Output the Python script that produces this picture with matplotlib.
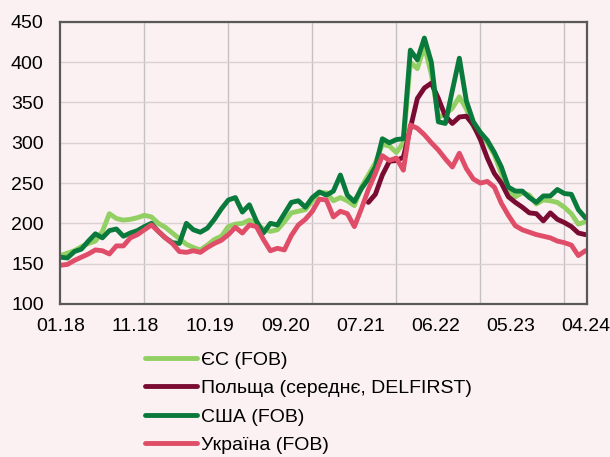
import numpy as np
import matplotlib
matplotlib.use("Agg")
import matplotlib.pyplot as plt

plt.rcParams["font.family"] = ["Liberation Sans", "DejaVu Sans"]

# monthly values, 01.2018 .. 04.2024 (month index 0..75)
eu = [160, 163, 166, 171, 175, 178, 190, 212, 206, 204,
      205, 207, 210, 208, 200, 195, 188, 181, 174, 170,
      167, 173, 180, 184, 196, 199, 200, 204, 199, 193,
      190, 192, 202, 213, 215, 217, 228, 238, 238, 228,
      232, 228, 222, 245, 260, 275, 298, 296, 288, 300,
      400, 392, 420, 385, 332, 335, 343, 357, 342, 320,
      310, 300, 285, 262, 240, 233, 238, 235, 224, 229,
      228, 226, 220, 212, 199, 202]

us = [158, 157, 165, 168, 178, 187, 182, 191, 193, 184,
      188, 191, 196, 200, 190, 182, 176, 175, 200, 192,
      189, 194, 205, 218, 229, 232, 214, 223, 203, 188,
      200, 198, 212, 226, 228, 220, 232, 239, 235, 240,
      260, 235, 227, 243, 255, 270, 305, 300, 304, 305,
      415, 403, 430, 400, 326, 324, 365, 405, 352, 326,
      313, 303, 288, 270, 245, 240, 240, 232, 226, 234,
      234, 242, 237, 236, 217, 207]

ukraine = [148, 149, 154, 158, 162, 167, 166, 162, 172, 172,
           182, 186, 192, 198, 190, 182, 175, 165, 164, 166,
           164, 170, 175, 179, 186, 195, 188, 198, 196, 180,
           166, 169, 167, 185, 198, 205, 215, 230, 229, 208,
           215, 212, 196, 218, 242, 262, 284, 278, 281, 266,
           322, 318, 310, 300, 291, 280, 270, 287, 268, 255,
           250, 252, 245, 225, 210, 197, 192, 189, 186, 184,
           182, 178, 176, 173, 160, 166]

# Poland series starts in 09.2021 (month 44)
poland_start = 44
poland = [226, 236, 260, 277, 278, 282, 318, 355, 368, 374,
          355, 333, 324, 332, 333, 322, 304, 281, 262, 250,
          233, 226, 220, 213, 212, 203, 213, 205, 201, 196,
          188, 186]

tick_labels = ["01.18", "11.18", "10.19", "09.20", "07.21", "06.22", "05.23", "04.24"]
series_names = ["ЄС (FOB)", "Польща (середнє, DELFIRST)", "США (FOB)", "Україна (FOB)"]
colors = ["#92D064", "#7A0C33", "#0A7A3C", "#E04D68"]

bg = "#FBF1F2"
months = np.arange(len(eu))
poland_x = np.arange(poland_start, poland_start + len(poland))

fig = plt.figure(figsize=(6.1, 4.57), dpi=100, facecolor=bg)
ax = fig.add_axes([0.099, 0.335, 0.864, 0.617], facecolor=bg)

lw = 3.5
ax.plot(months, eu, color=colors[0], lw=lw, label=series_names[0], solid_joinstyle="round", solid_capstyle="round")
ax.plot(poland_x, poland, color=colors[1], lw=lw, label=series_names[1], solid_joinstyle="round", solid_capstyle="round")
ax.plot(months, us, color=colors[2], lw=lw, label=series_names[2], solid_joinstyle="round", solid_capstyle="round")
ax.plot(months, ukraine, color=colors[3], lw=lw, label=series_names[3], solid_joinstyle="round", solid_capstyle="round")

ax.set_xlim(0, 75.3)
ax.set_ylim(100, 450)
ax.set_yticks(np.arange(100, 451, 50))

# labels spread evenly, vertical grid at each January
ax.set_xticks([k * 75 / 7 for k in range(8)], tick_labels)
ax.set_xticks([12, 24, 36, 48, 60, 72], minor=True)
ax.grid(axis="y", which="major", color="#D9D2D4", lw=1)
ax.grid(axis="x", which="minor", color="#C4C0C3", lw=1)
ax.set_axisbelow(True)

ax.tick_params(axis="both", which="both", length=0, labelsize=14, colors="#000000")
ax.tick_params(axis="y", pad=12)
ax.tick_params(axis="x", pad=10)
for s in ax.spines.values():
    s.set_color("#595959")
    s.set_linewidth(1.6)

fig.legend(loc="upper left", bbox_to_anchor=(0.238, 0.232), frameon=False,
           fontsize=14, handlelength=2.65, handletextpad=0.2, labelspacing=0.56,
           borderaxespad=0, borderpad=0)

fig.savefig("out.png", dpi=100, facecolor=bg)
